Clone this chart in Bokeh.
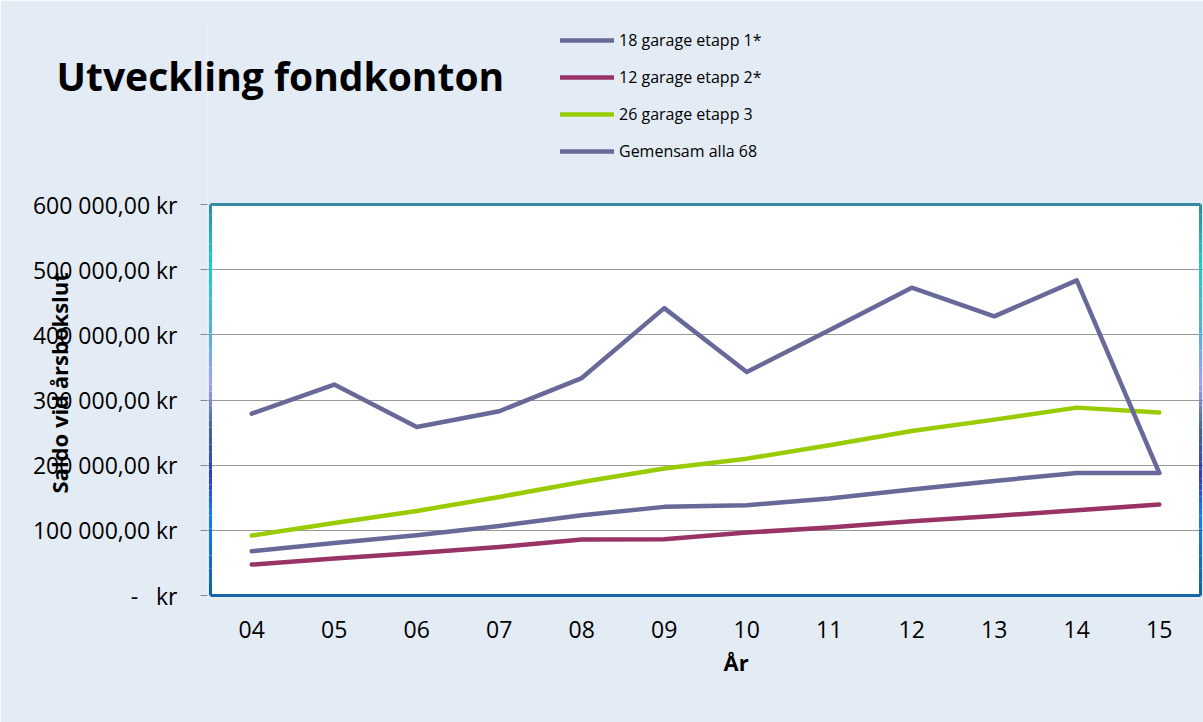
from bokeh.plotting import figure
from bokeh.models import Range1d, FixedTicker, Legend, LegendItem, Title, BoxAnnotation
from bokeh.embed import file_html
from bokeh.resources import INLINE

# ---- data ----
years = ["04", "05", "06", "07", "08", "09", "10", "11", "12", "13", "14", "15"]
etapp1 = [68000, 80700, 92500, 106800, 123000, 136000, 138500, 148800, 162600, 175800, 188000, 188000]
etapp2 = [47500, 56700, 65300, 74500, 85900, 86300, 96600, 104300, 114000, 122000, 130800, 139500]
etapp3 = [92000, 111300, 129800, 151200, 174200, 194800, 210000, 230500, 252500, 269900, 288300, 280700]
gemensam = [279000, 323600, 258600, 282700, 333700, 441000, 343000, 407000, 472400, 428400, 483600, 188000]
series_names = ["18 garage etapp 1*", "12 garage etapp 2*", "26 garage etapp 3", "Gemensam alla 68"]
y_ticks = [0, 100000, 200000, 300000, 400000, 500000, 600000]
y_tick_labels = ["-\u00a0\u00a0\u00a0kr", "100 000,00 kr", "200 000,00 kr", "300 000,00 kr",
                 "400 000,00 kr", "500 000,00 kr", "600 000,00 kr"]
title_text = "Utveckling fondkonton"
y_title = "Saldo vid årsbokslut"
x_title = "År"

# ---- styles / layout ----
FONT = "Open Sans"
BG = "#e3ebf5"
colors = ["#686899", "#993366", "#99cc00", "#686899"]
TOP_EDGE = "#348ba2"
BOTTOM_EDGE = "#1566a6"
# side-border gradient: (fraction of plot-area height from bottom, colour)
SIDE_STOPS = [(0.0, (0x10, 0x62, 0xa2)), (0.205, (0x10, 0x80, 0xff)), (0.30, (0x30, 0x3c, 0xc8)),
              (0.43, (0x40, 0x68, 0x90)), (0.54, (0xa0, 0xa0, 0xff)), (0.67, (0x55, 0xb0, 0xe0)),
              (0.85, (0x18, 0xcc, 0xcc)), (1.0, (0x2e, 0x8c, 0xa0))]
PAD = 3                      # px of frame outside the plot-area border
CAT_W = 82.5                 # px per category
FRAME_TOP, AREA_TOP, AREA_BOTTOM = 20, 204, 595
Y_MAX = y_ticks[-1]
PX_PER_Y = (AREA_BOTTOM - AREA_TOP) / Y_MAX

n = len(years)
x_idx = list(range(n))
x_lo, x_hi = -0.5, n - 0.5

p = figure(width=1203, height=722, output_backend="svg", toolbar_location=None,
           x_range=Range1d(x_lo - PAD / CAT_W, x_hi + PAD / CAT_W),
           y_range=Range1d(-PAD / PX_PER_Y, (AREA_BOTTOM - FRAME_TOP) / PX_PER_Y),
           min_border_left=207, min_border_right=0, min_border_top=FRAME_TOP,
           min_border_bottom=722 - AREA_BOTTOM - PAD)

p.background_fill_color = BG
p.border_fill_color = BG
p.outline_line_color = None

# white plot area
p.add_layout(BoxAnnotation(left=x_lo, right=x_hi, bottom=0, top=Y_MAX,
                           fill_color="white", fill_alpha=1, line_alpha=0, level="image"))

p.xgrid.grid_line_color = None
p.ygrid.grid_line_color = "#9a9a9a"
p.ygrid.grid_line_width = 1
p.ygrid.ticker = FixedTicker(ticks=y_ticks[1:-1])

# y axis
p.yaxis.ticker = FixedTicker(ticks=y_ticks)
p.yaxis.major_label_overrides = {t: l for t, l in zip(y_ticks, y_tick_labels)}
p.yaxis.major_label_text_font = FONT
p.yaxis.major_label_text_font_size = "23px"
p.yaxis.major_label_text_color = "black"
p.yaxis.major_tick_out = 7
p.yaxis.major_tick_in = 0
p.yaxis.major_tick_line_color = "#888888"
p.yaxis.minor_tick_line_color = None
p.yaxis.axis_line_color = None
p.yaxis.major_label_standoff = 23

# x axis
p.xaxis.ticker = FixedTicker(ticks=x_idx)
p.xaxis.major_label_overrides = {i: y for i, y in zip(x_idx, years)}
p.xaxis.major_label_text_font = FONT
p.xaxis.major_label_text_font_size = "23px"
p.xaxis.major_label_text_color = "black"
p.xaxis.major_tick_out = 0
p.xaxis.major_tick_in = 0
p.xaxis.minor_tick_line_color = None
p.xaxis.axis_line_color = None
p.xaxis.major_label_standoff = 22

renderers = []
for vals, col in zip([etapp1, etapp2, etapp3, gemensam], colors):
    r = p.line(x_idx, vals, line_color=col, line_width=4.5, line_join="round", line_cap="round")
    renderers.append(r)

# plot-area border: top, bottom and gradient sides
bx0, by0, bx1, by1, bcol = [x_lo, x_lo], [Y_MAX, 0], [x_hi, x_hi], [Y_MAX, 0], [TOP_EDGE, BOTTOM_EDGE]
STEPS = 6
for (f0, c0), (f1, c1) in zip(SIDE_STOPS[:-1], SIDE_STOPS[1:]):
    for k in range(STEPS):
        t0, t1 = k / STEPS, (k + 1) / STEPS
        tm = (t0 + t1) / 2
        col = "#%02x%02x%02x" % tuple(int(a + (b - a) * tm) for a, b in zip(c0, c1))
        ya = (f0 + (f1 - f0) * t0) * Y_MAX
        yb = (f0 + (f1 - f0) * t1) * Y_MAX
        for xe in (x_lo, x_hi):
            bx0.append(xe); bx1.append(xe); by0.append(ya); by1.append(yb); bcol.append(col)
p.segment(x0=bx0, y0=by0, x1=bx1, y1=by1, line_color=bcol, line_width=3, level="overlay")

legend = Legend(items=[LegendItem(label=nm, renderers=[r]) for nm, r in zip(series_names, renderers)],
                location=(353, 436), orientation="vertical",
                label_text_font=FONT, label_text_font_size="16px", label_text_color="black",
                glyph_width=54, glyph_height=20, label_height=20, label_standoff=5,
                spacing=15, padding=0, margin=0,
                border_line_color=None, background_fill_alpha=0)
p.add_layout(legend)

# chart title
p.title.text = title_text
p.title.text_font = FONT
p.title.text_font_size = "39px"
p.title.text_font_style = "bold"
p.title.text_color = "black"
p.title.align = "left"
p.title.offset = -151
p.title.standoff = -162

# axis titles
p.add_layout(Title(text=y_title, text_font=FONT, text_font_size="22px", text_font_style="bold",
                   text_color="black", align="left", offset=105, vertical_align="bottom",
                   standoff=-88), "left")
p.add_layout(Title(text=x_title, text_font=FONT, text_font_size="22px", text_font_style="bold",
                   text_color="black", align="left", offset=516, vertical_align="top",
                   standoff=12), "below")

open("out.html", "w").write(file_html(p, INLINE))
